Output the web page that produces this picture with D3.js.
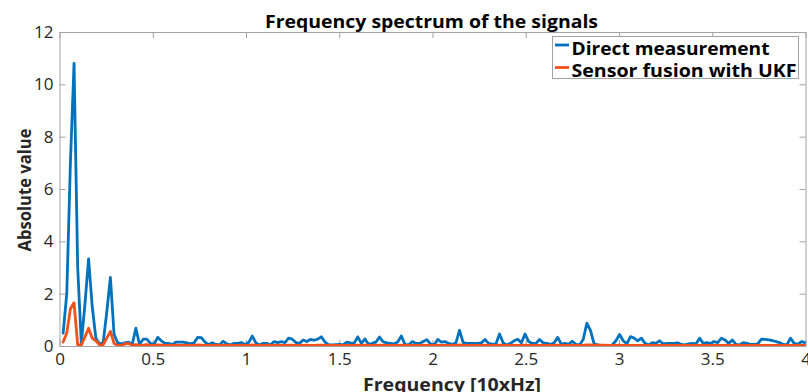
<!DOCTYPE html>
<html>
<head>
<meta charset="utf-8">
<script src="https://cdn.jsdelivr.net/npm/d3@7/dist/d3.min.js"></script>
<style>
  body { margin: 0; background: #fff; }
  text { font-family: "Open Sans", sans-serif; }
</style>
</head>
<body>
<svg id="chart" width="808" height="392"></svg>
<script>
// FFT bin spacing (units of 10 Hz); bin k sits at k * binStep
const binStep = 0.0195;

// Magnitude spectrum, bins 1..205
const direct = [
  0.49, 2.0, 7.0, 10.8, 3.0, 0.1, 1.6, 3.33, 1.5, 0.3,
  0.08, 0.12, 1.3, 2.62, 0.45, 0.12, 0.08, 0.12, 0.15, 0.06,
  0.68, 0.06, 0.26, 0.26, 0.1, 0.06, 0.33, 0.2, 0.1, 0.1,
  0.05, 0.15, 0.15, 0.15, 0.12, 0.08, 0.12, 0.33, 0.32, 0.15,
  0.05, 0.12, 0.06, 0.04, 0.18, 0.08, 0.04, 0.1, 0.1, 0.13,
  0.06, 0.13, 0.38, 0.12, 0.04, 0.1, 0.1, 0.04, 0.17, 0.13,
  0.17, 0.13, 0.3, 0.26, 0.13, 0.1, 0.23, 0.17, 0.25, 0.22,
  0.26, 0.35, 0.15, 0.04, 0.04, 0.05, 0.06, 0.04, 0.15, 0.12,
  0.1, 0.35, 0.1, 0.27, 0.06, 0.1, 0.15, 0.34, 0.16, 0.12,
  0.1, 0.08, 0.15, 0.38, 0.06, 0.04, 0.17, 0.1, 0.1, 0.17,
  0.24, 0.08, 0.04, 0.25, 0.15, 0.17, 0.1, 0.06, 0.12, 0.6,
  0.13, 0.1, 0.1, 0.1, 0.1, 0.12, 0.25, 0.1, 0.07, 0.08,
  0.46, 0.12, 0.04, 0.1, 0.2, 0.26, 0.12, 0.46, 0.17, 0.1,
  0.1, 0.25, 0.12, 0.1, 0.06, 0.12, 0.33, 0.06, 0.1, 0.06,
  0.18, 0.06, 0.04, 0.25, 0.87, 0.6, 0.08, 0.04, 0.02, 0.02,
  0.0, 0.04, 0.2, 0.44, 0.2, 0.08, 0.36, 0.3, 0.2, 0.3,
  0.1, 0.04, 0.13, 0.1, 0.2, 0.08, 0.1, 0.1, 0.1, 0.12,
  0.06, 0.04, 0.08, 0.1, 0.08, 0.3, 0.1, 0.13, 0.1, 0.17,
  0.13, 0.3, 0.23, 0.1, 0.23, 0.06, 0.04, 0.13, 0.1, 0.06,
  0.06, 0.08, 0.26, 0.25, 0.23, 0.21, 0.17, 0.13, 0.06, 0.04,
  0.3, 0.1, 0.06, 0.17, 0.13
];

const fused = [
  0.15, 0.5, 1.42, 1.65, 0.05, 0.04, 0.35, 0.68, 0.3, 0.2,
  0.04, 0.04, 0.3, 0.56, 0.1, 0.03, 0.02, 0.08, 0.1, 0.03,
  0.05, 0.02, 0.03, 0.05, 0.02, 0.02, 0.04, 0.03, 0.02, 0.02,
  0.02, 0.03, 0.02, 0.02, 0.03, 0.02, 0.02, 0.04, 0.03, 0.02,
  0.02, 0.02, 0.03, 0.02, 0.02, 0.03, 0.02, 0.02, 0.02, 0.03,
  0.02, 0.02, 0.04, 0.02, 0.02, 0.02, 0.03, 0.02, 0.02, 0.03,
  0.02, 0.02, 0.03, 0.03, 0.02, 0.02, 0.02, 0.03, 0.02, 0.02,
  0.03, 0.03, 0.02, 0.02, 0.02, 0.02, 0.02, 0.02, 0.02, 0.02,
  0.02, 0.03, 0.02, 0.03, 0.02, 0.02, 0.02, 0.03, 0.02, 0.02,
  0.02, 0.02, 0.02, 0.03, 0.02, 0.02, 0.02, 0.02, 0.02, 0.03,
  0.02, 0.02, 0.02, 0.03, 0.02, 0.02, 0.02, 0.02, 0.02, 0.04,
  0.02, 0.02, 0.02, 0.02, 0.02, 0.02, 0.03, 0.02, 0.02, 0.02,
  0.03, 0.02, 0.02, 0.02, 0.02, 0.02, 0.02, 0.03, 0.02, 0.02,
  0.02, 0.02, 0.02, 0.02, 0.02, 0.02, 0.03, 0.02, 0.02, 0.02,
  0.02, 0.02, 0.02, 0.02, 0.04, 0.04, 0.03, 0.03, 0.03, 0.03,
  0.02, 0.02, 0.02, 0.03, 0.02, 0.02, 0.02, 0.02, 0.02, 0.02,
  0.02, 0.02, 0.02, 0.02, 0.02, 0.02, 0.02, 0.02, 0.02, 0.02,
  0.02, 0.02, 0.02, 0.02, 0.02, 0.02, 0.02, 0.02, 0.02, 0.02,
  0.02, 0.02, 0.02, 0.02, 0.02, 0.02, 0.02, 0.02, 0.02, 0.02,
  0.02, 0.02, 0.02, 0.02, 0.02, 0.02, 0.02, 0.02, 0.02, 0.02,
  0.02, 0.02, 0.02, 0.02, 0.02
];

const seriesNames = ["Direct measurement", "Sensor fusion with UKF"];
const seriesColors = ["#0072BD", "#F5501A"];

const xTicks = [0, 0.5, 1, 1.5, 2, 2.5, 3, 3.5, 4];
const xTickLabels = ["0", "0.5", "1", "1.5", "2", "2.5", "3", "3.5", "4"];
const yTicks = [0, 2, 4, 6, 8, 10, 12];
const yTickLabels = ["0", "2", "4", "6", "8", "10", "12"];

const titleText = "Frequency spectrum of the signals";
const xLabelText = "Frequency [10xHz]";
const yLabelText = "Absolute value";

// ---- layout ----
const plot = { left: 59.5, right: 805.5, top: 32, bottom: 346 };
const axisColor = "#a3a3a3";
const labelColor = "#262626";

const svg = d3.select("#chart");

const x = d3.scaleLinear().domain([0, 4]).range([plot.left, plot.right]);
const y = d3.scaleLinear().domain([0, 12]).range([plot.bottom, plot.top]);

// clip the traces to the axes box
svg.append("defs").append("clipPath").attr("id", "plotClip")
  .append("rect")
  .attr("x", plot.left).attr("y", plot.top)
  .attr("width", plot.right - plot.left).attr("height", plot.bottom - plot.top);

function styleAxis(g, showLabels) {
  g.select(".domain").attr("stroke", axisColor).attr("stroke-width", 1);
  g.selectAll(".tick line").attr("stroke", axisColor).attr("stroke-width", 1);
  g.selectAll(".tick text")
    .attr("fill", labelColor)
    .style("font-size", "17px")
    .style("display", showLabels ? null : "none");
}

// bottom axis with labels, ticks pointing inward
svg.append("g")
  .attr("transform", `translate(0,${plot.bottom})`)
  .call(d3.axisBottom(x).tickValues(xTicks)
    .tickFormat((d, i) => xTickLabels[i])
    .tickSizeInner(-6).tickSizeOuter(0).tickPadding(7))
  .call(g => styleAxis(g, true));

// top box edge
svg.append("g")
  .attr("transform", `translate(0,${plot.top})`)
  .call(d3.axisTop(x).tickValues(xTicks).tickFormat("")
    .tickSizeInner(-6).tickSizeOuter(0))
  .call(g => styleAxis(g, false));

// left axis with labels
svg.append("g")
  .attr("transform", `translate(${plot.left},0)`)
  .call(d3.axisLeft(y).tickValues(yTicks)
    .tickFormat((d, i) => yTickLabels[i])
    .tickSizeInner(-6).tickSizeOuter(0).tickPadding(6))
  .call(g => styleAxis(g, true));

// right box edge
svg.append("g")
  .attr("transform", `translate(${plot.right},0)`)
  .call(d3.axisRight(y).tickValues(yTicks).tickFormat("")
    .tickSizeInner(-6).tickSizeOuter(0))
  .call(g => styleAxis(g, false));

// spectrum traces
const line = d3.line()
  .x((d, i) => x((i + 1) * binStep))
  .y(d => y(d));

const traces = svg.append("g").attr("clip-path", "url(#plotClip)");
[direct, fused].forEach((series, s) => {
  traces.append("path")
    .datum(series)
    .attr("d", line)
    .attr("fill", "none")
    .attr("stroke", seriesColors[s])
    .attr("stroke-width", 2.8)
    .attr("stroke-linejoin", "round")
    .attr("stroke-linecap", "round");
});

// title
svg.append("text")
  .attr("x", 431.5)
  .attr("y", 27.5)
  .attr("text-anchor", "middle")
  .attr("fill", "#000")
  .attr("textLength", 333)
  .attr("lengthAdjust", "spacingAndGlyphs")
  .style("font-size", "18.5px")
  .style("font-weight", "700")
  .text(titleText);

// x label
svg.append("text")
  .attr("x", 452)
  .attr("y", 390.5)
  .attr("text-anchor", "middle")
  .attr("fill", labelColor)
  .attr("textLength", 178)
  .attr("lengthAdjust", "spacingAndGlyphs")
  .style("font-size", "18px")
  .style("font-weight", "700")
  .text(xLabelText);

// y label
svg.append("text")
  .attr("transform", "translate(30.5,190) rotate(-90)")
  .attr("text-anchor", "middle")
  .attr("fill", labelColor)
  .attr("textLength", 123)
  .attr("lengthAdjust", "spacingAndGlyphs")
  .style("font-size", "18px")
  .style("font-weight", "700")
  .text(yLabelText);

// legend
const legend = svg.append("g");
legend.append("rect")
  .attr("x", 552.5).attr("y", 36.5)
  .attr("width", 246).attr("height", 42)
  .attr("fill", "#fff")
  .attr("stroke", axisColor).attr("stroke-width", 1);

const legendRows = [45, 67.5];
const legendWidths = [198, 225];
seriesNames.forEach((name, s) => {
  legend.append("line")
    .attr("x1", 555).attr("x2", 569)
    .attr("y1", legendRows[s]).attr("y2", legendRows[s])
    .attr("stroke", seriesColors[s]).attr("stroke-width", 2.8);
  legend.append("text")
    .attr("x", 571.5)
    .attr("y", legendRows[s] + 9.5)
    .attr("fill", "#000")
    .attr("textLength", legendWidths[s])
    .attr("lengthAdjust", "spacingAndGlyphs")
    .style("font-size", "18.5px")
    .style("font-weight", "700")
    .text(name);
});
</script>
</body>
</html>
